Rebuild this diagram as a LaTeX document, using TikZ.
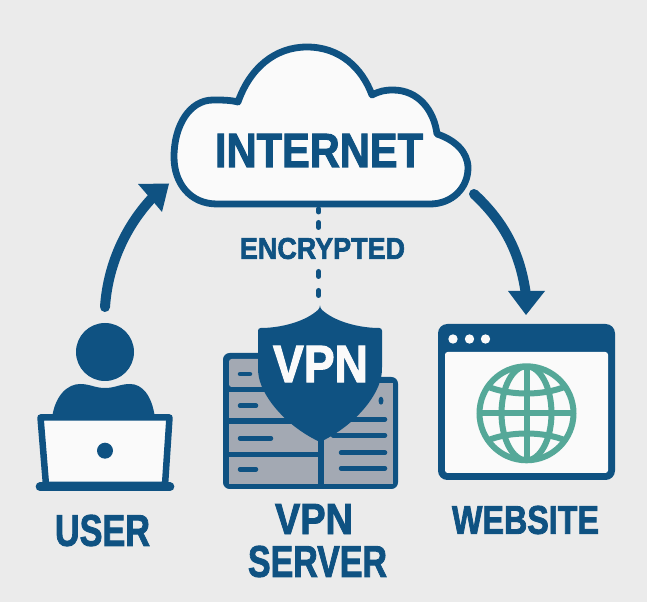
\documentclass[tikz,border=0pt]{standalone}
\usepackage{fontspec}
\setmainfont[BoldFeatures={FakeBold=2.2}]{Liberation Sans}
\usepackage{graphicx}
\newlength\pxu \pxu=0.75pt
\definecolor{navy}{HTML}{0F5282}
\definecolor{bgc}{HTML}{EBEBEB}
\definecolor{paper}{HTML}{FAFAFA}
\definecolor{teal2}{HTML}{55A898}
\definecolor{panel}{HTML}{A3A9B3}
\newcommand{\fitlabel}[6][navy]{\node[inner sep=0pt,text=#1] (#2) at (#3) {\resizebox{#4\pxu}{#5\pxu}{\bfseries #6}};}
\tikzset{
  arrowline/.style={draw=navy,line width=10*\pxu,line cap=round},
  headfill/.style={fill=navy,draw=none},
  dotline/.style={navy,line width=5*\pxu,line cap=round},
  dashbar/.style={navy,line width=4.5*\pxu,line cap=round},
  panelbox/.style={fill=panel,draw=none},
  globeline/.style={draw=teal2,line width=6*\pxu},
}
\begin{document}
\begin{tikzpicture}[x=0.75pt,y=-0.75pt]
\useasboundingbox (0,0) rectangle (647,602);
\fill[bgc] (0,0) rectangle (647,602);
% cloud
\draw[navy,line width=6.8*\pxu,fill=paper,line join=round]
 (217,204) .. controls (190,204) and (174,183) .. (174,157)
 .. controls (174,125) and (190,100) .. (213,100)
 .. controls (222,100) and (230,100) .. (238,102)
 .. controls (250,68) and (275,47) .. (307,47)
 .. controls (340,47) and (362,68) .. (372,95)
 .. controls (380,91) and (385,90) .. (393,90)
 .. controls (418,90) and (434,110) .. (437,134)
 .. controls (455,140) and (468,152) .. (468,168)
 .. controls (468,188) and (452,204) .. (430,204) -- cycle;
\fitlabel{internet}{319,150.5}{208}{33}{INTERNET}
% dotted link
\coordinate (d1) at (318.7,209); \coordinate (d2) at (318.7,212);
\coordinate (d3) at (318.7,222.5); \coordinate (d4) at (318.7,227.5);
\coordinate (d5) at (318.7,271.5); \coordinate (d6) at (318.7,276.5);
\coordinate (d7) at (318.7,290.5); \coordinate (d8) at (318.7,295.5);
\draw[dotline] (d1)--(d2); \draw[dotline] (d3)--(d4); \draw[dotline] (d5)--(d6); \draw[dotline] (d7)--(d8);
\fitlabel{encrypted}{322.5,248.5}{165}{21}{ENCRYPTED}
% left arrow
\coordinate (la) at (105,307); \coordinate (lb) at (156,194);
\draw[arrowline] (la) .. controls (108,262) and (128,222) .. (lb);
\fill[headfill] (138,184) -- (169,183.5) -- (162,212) -- (151,199) -- cycle;
% right arrow
\coordinate (ra) at (474,194); \coordinate (rb) at (526,295);
\draw[arrowline] (ra) .. controls (502,220) and (520,250) .. (rb);
\fill[headfill] (508,291) -- (545,291) -- (526,315) -- cycle;
% user
\fill[navy] (105,352) circle (29);
\fill[navy] (52,418) .. controls (55,395) and (68,384) .. (80,384)
 .. controls (90,384) and (95,388) .. (105,388)
 .. controls (115,388) and (120,384) .. (130,384)
 .. controls (142,384) and (152,395) .. (155,418) -- cycle;
\draw[navy,line width=6.5*\pxu,fill=paper,line join=round] (40.5,417.5) -- (169.5,417.5) -- (165,485) -- (46,485) -- cycle;
\coordinate (ba) at (40,486.7); \coordinate (bb) at (170,486.7);
\draw[navy,line width=8.7*\pxu,line cap=round] (ba) -- (bb);
\fill[navy] (105,450.7) circle (8);
\fitlabel{user}{102.5,530.5}{95}{31}{USER}
% server
\fill[navy,rounded corners=5] (223,353) rectangle (340,489);
\fill[navy,rounded corners=5] (300,377) rectangle (398,489);
\fill[panel,rounded corners=2] (229,359) rectangle (320,387);
\fill[panelbox] (229,392) rectangle (318,418);
\fill[panelbox] (229,424) rectangle (318,452);
\fill[panelbox] (229,457) rectangle (318,484);
\fill[panelbox] (324,383) rectangle (393,484);
\draw[dashbar] (240,374) -- (250,374);
\draw[dashbar] (240,405.7) -- (256,405.7);
\draw[dashbar] (240,438.3) -- (271,438.3);
\draw[dashbar] (240,469.3) -- (256,469.3);
\draw[dashbar] (345,419.3) -- (385,419.3);
\draw[dashbar] (333,435.3) -- (385,435.3);
\draw[dashbar] (341,452.7) -- (385,452.7);
\draw[dashbar] (341,468.3) -- (385,468.3);
\fill[navy] (381,400.7) ellipse (2.5 and 4);
% shield
\fill[navy,rounded corners=2] (320,308) .. controls (305,322) and (280,328) .. (258,328)
 -- (258,370) .. controls (260,395) and (285,425) .. (320,442)
 .. controls (355,425) and (380,395) .. (382,370) -- (382,328)
 .. controls (360,328) and (335,322) .. (320,308) -- cycle;
\draw[navy,line width=5.5*\pxu] (321,440) -- (321,486);
\fitlabel[paper]{vpnshield}{320.5,364}{95}{36}{VPN}
\fitlabel{vpn}{314,519}{78}{30}{VPN}
\fitlabel{server}{317.5,561.5}{139}{31}{SERVER}
% window
\fill[navy,rounded corners=7] (438,324) rectangle (615,480);
\fill[paper,rounded corners=2] (445,352) rectangle (608,473);
\foreach \dx in {453,469.5,485.5} \fill[paper] (\dx,339) circle (4.7);
\coordinate (g) at (526.5,413.3);
\draw[globeline] (g) circle (47);
\begin{scope}
\clip (g) circle (47);
\draw[globeline] (g) ellipse (25 and 47);
\draw[globeline] (479,413.3) -- (574,413.3);
\draw[globeline] (526.5,366) -- (526.5,460);
\draw[globeline] (480,383) .. controls (505,397) and (548,397) .. (573,383);
\draw[globeline] (480,444) .. controls (505,430) and (548,430) .. (573,444);
\end{scope}
\fitlabel{website}{525.5,520}{147}{28}{WEBSITE}
\end{tikzpicture}
\end{document}
